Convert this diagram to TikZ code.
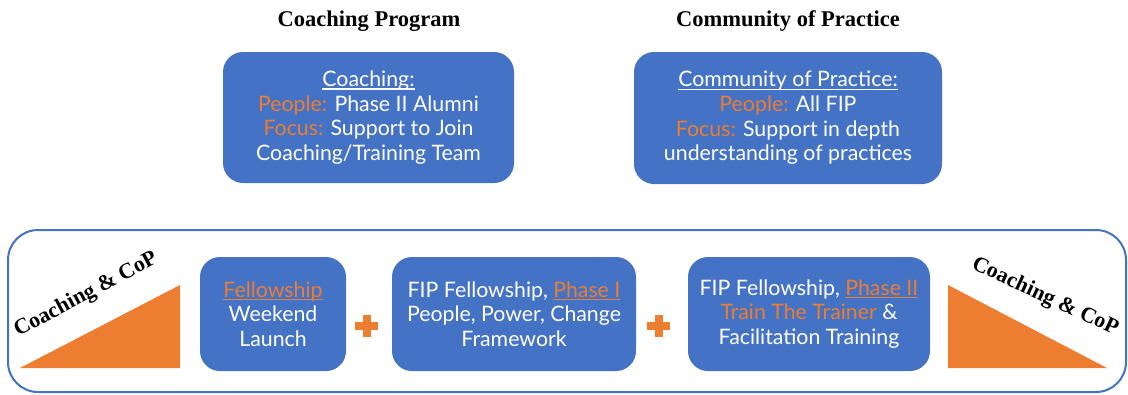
\documentclass[tikz,border=0pt]{standalone}
\usepackage{fontspec}
\setmainfont{Lato}
\newfontfamily\headfont{Liberation Serif}
\definecolor{fipblue}{HTML}{4472C4}
\definecolor{fiporange}{HTML}{ED7D31}
% thin underline drawn in the current text colour
\newcommand{\thinul}[1]{\setbox0\hbox{#1}\rlap{\rule[-3pt]{\wd0}{1.1pt}}\box0}
\newcommand{\hl}[1]{\textcolor{fiporange}{#1}}
\newcommand{\hlu}[1]{\textcolor{fiporange}{\thinul{#1}}}
\begin{document}
\begin{tikzpicture}[x=1pt,y=-1pt,
  card/.style={fill=fipblue, rounded corners=20pt, text=white, align=center,
    inner sep=0pt, font=\fontsize{21.3}{24.6}\selectfont},
  heading/.style={font=\headfont\bfseries\fontsize{22.5}{26}\selectfont, text=black},
  slope/.style={font=\headfont\bfseries\fontsize{22}{26}\selectfont, text=black},
  plusbar/.style={fill=fiporange}]
\useasboundingbox (0,0) rectangle (1128,394);

% headings
\node[heading] (h1) at (369,21) {Coaching Program};
\node[heading] (h2) at (788,21) {Community of Practice};

% upper cards
\node[card, minimum width=291pt, minimum height=131pt] (coach) at (368.5,117.5)
  {\thinul{Coaching:}\\ \hl{People:} Phase II Alumni\\ \hl{Focus:} Support to Join\\ Coaching/Training Team};
\node[card, minimum width=308pt, minimum height=132pt] (cop) at (788,118)
  {\thinul{Community of Practice:}\\ \hl{People:} All FIP\\ \hl{Focus:} Support in depth\\ understanding of practices};

% lower frame
\draw[fipblue, line width=2pt, rounded corners=30pt] (8,230) rectangle (1126,392);

% ramps
\fill[fiporange] (20,368) -- (180,285) -- (180,368) -- cycle;
\fill[fiporange] (948,285) -- (1107,368) -- (948,368) -- cycle;
\node[slope, rotate=28] (up) at (86,295) {Coaching \& CoP};
\node[slope, rotate=-25] (down) at (1045,297) {Coaching \& CoP};

% stage cards
\node[card, minimum width=146pt, minimum height=114pt] (s1) at (273,314)
  {\hlu{Fellowship}\\ Weekend\\ Launch};
\node[card, minimum width=244pt, minimum height=114pt] (s2) at (514,314)
  {FIP Fellowship, \hlu{Phase I}\\ People, Power, Change\\ Framework};
\node[card, minimum width=242pt, minimum height=114pt] (s3) at (809,314)
  {FIP Fellowship, \hlu{Phase II}\\ \hl{Train The Trainer} \&\\ Facilitation Training};

% plus signs
\fill[plusbar] (355,322) rectangle (378,330);
\fill[plusbar] (362.5,315) rectangle (370.5,337);
\fill[plusbar] (647,322) rectangle (670,330);
\fill[plusbar] (654.5,315) rectangle (662.5,337);
\end{tikzpicture}
\end{document}
